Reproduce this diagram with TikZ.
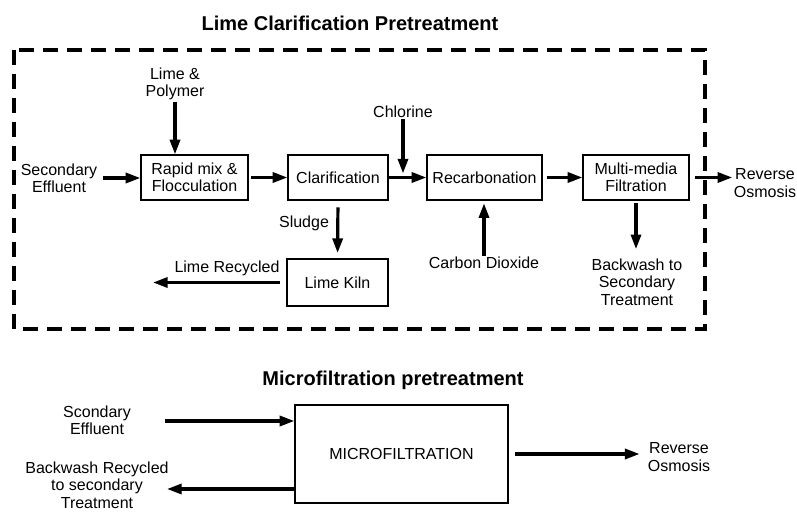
\documentclass[tikz,border=0pt]{standalone}
\usepackage{fontspec}
\setmainfont{Liberation Sans}
\usetikzlibrary{arrows.meta}

\begin{document}
\begin{tikzpicture}[
    x=0.75pt, y=-0.75pt,
    font=\fontsize{12}{13}\selectfont,
    unit/.style={draw, line width=0.9pt, align=center, minimum height=33.75pt, inner sep=2pt},
    label text/.style={align=center, inner sep=1pt},
    heading/.style={font=\fontsize{15}{18}\selectfont\bfseries},
    flow/.style={line width=2.4pt, -{Triangle[length=11pt, width=7.5pt]}}
  ]
  \useasboundingbox (0,0) rectangle (797,513);

  % lime clarification
  \node[heading] (t1) at (350,23) {Lime Clarification Pretreatment};
  \draw[line width=2.4pt, dash pattern=on 11pt off 7pt] (14,50) rectangle (705,329);

  \node[unit, minimum width=80.25pt] (rapid) at (194.5,177.5) {Rapid mix \&\\Flocculation};
  \node[unit, minimum width=75pt] (clar) at (338,177.5) {Clarification};
  \node[unit, minimum width=86.25pt] (recarb) at (484.5,177.5) {Recarbonation};
  \node[unit, minimum width=79.5pt] (mm) at (636,177.5) {Multi-media\\Filtration};
  \node[unit, minimum width=75.75pt, minimum height=35.25pt] (kiln) at (337.5,282.5) {Lime Kiln};

  \node[label text] (sec) at (59,178) {Secondary\\Effluent};
  \node[label text] (lp) at (175,84) {Lime \&\\Polymer};
  \node[label text] (chl) at (403,112) {Chlorine};
  \node[label text] (sl) at (304,223) {Sludge};
  \node[label text] (lr) at (227,268) {Lime Recycled};
  \node[label text] (co2) at (484,263) {Carbon Dioxide};
  \node[label text] (bw) at (637,282) {Backwash to\\Secondary\\Treatment};
  \node[label text] (ro) at (765,183) {Reverse\\Osmosis};
  \coordinate (lrend) at (153,283);

  \draw[flow, shorten <=3pt] (sec.east) -- (sec.east -| rapid.west);
  \draw[flow] (lp.south) -- (lp.south |- rapid.north);
  \draw[flow, shorten <=2pt] (rapid) -- (clar);
  \draw[flow] (clar) -- (recarb);
  \draw[flow, shorten >=3pt] (chl.south) -- (chl.south |- clar.east);
  \draw[flow, shorten <=3pt] (recarb) -- (mm);
  \draw[flow, shorten <=4pt] (mm.east) -- (mm.east -| ro.west);
  \draw[flow, shorten >=2pt] (co2.north) -- (co2.north |- recarb.south);
  \draw[flow, shorten <=2pt, shorten >=6pt] (mm.south) -- (mm.south |- bw.north);
  \draw[flow, shorten <=5pt, shorten >=4pt] (clar.south) -- (kiln.north);
  \draw[flow, shorten <=5pt] (kiln.west) -- (kiln.west -| lrend);

  % microfiltration
  \node[heading] (t2) at (393,380) {Microfiltration pretreatment};
  \node[unit, minimum width=159.75pt, minimum height=73.5pt] (micro) at (401.5,454) {MICROFILTRATION};
  \node[label text] (se2) at (97,420) {Scondary\\Effluent};
  \node[label text] (bw2) at (97,485) {Backwash Recycled\\to secondary\\Treatment};
  \node[label text] (ro2) at (679,457) {Reverse\\Osmosis};
  \coordinate (se2start) at (165,421);
  \coordinate (bw2end) at (167,489);

  \draw[flow] (se2start) -- (se2start -| micro.west);
  \draw[flow, shorten <=5pt, shorten >=5pt] (micro.east) -- (micro.east -| ro2.west);
  \draw[flow] (micro.west |- bw2end) -- (bw2end);
\end{tikzpicture}
\end{document}
